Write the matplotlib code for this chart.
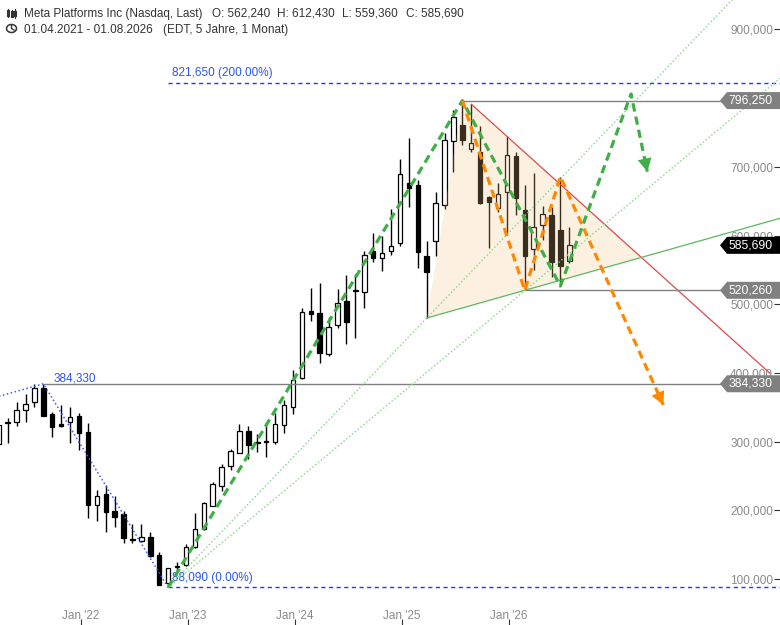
import numpy as np
import pandas as pd
import matplotlib
matplotlib.use('Agg')
import matplotlib.pyplot as plt
from matplotlib.patches import Polygon, Circle
from matplotlib.transforms import blended_transform_factory
from matplotlib.ticker import FuncFormatter

plt.rcParams['font.family'] = ['Liberation Sans', 'DejaVu Sans']

# monthly candles, 04/2021 - 08/2026
months = pd.period_range('2021-04', '2026-08', freq='M')
opens = [297, 327, 329, 346, 357.3, 377.7, 340.4, 325.8, 328.2,
         337.5, 314.7, 208, 224, 199.8, 195, 158, 155, 161, 135.3, 94, 118,
         120.7, 146.5, 172.6, 206.5, 235.6, 264.7, 284, 316, 298, 299.5, 300, 324.4,
         350, 392, 490.6, 486.8, 427.6, 469.8, 504.7, 520, 518.3, 577.5, 566.8, 577.5,
         588.6, 676, 673.5, 570, 592, 644, 737.5, 760.7, 725.8, 721, 656.5, 639.5,
         662.8, 716, 637, 580, 615, 630, 608, 562.24]
highs = [331, 334, 358, 369, 384, 384.33, 343.7, 353.5, 351,
         341.3, 327, 230, 237, 221.6, 199, 181, 181, 169, 140, 117, 125.6,
         151, 196, 212, 241, 267.6, 289, 325.8, 323, 311, 329, 342, 360.7,
         405, 494, 523, 530.5, 481, 521.7, 542.5, 543.5, 577.5, 603, 599.7, 638.5,
         711, 742.3, 680.7, 592, 662.8, 748.6, 782.5, 796.25, 791, 759, 657.5, 676,
         744.7, 721, 673.5, 691, 643, 642, 685.5, 612.43]
lows = [296, 298, 323, 329, 350, 337, 307, 322, 298.6,
        288, 189.5, 185, 168, 175.5, 153, 153, 154, 133, 91, 88.09, 111,
        119, 146, 171, 206, 229, 259, 283, 274.5, 285.6, 278, 297, 313,
        340, 391, 476, 415, 425, 466, 442, 451, 495, 562, 548, 572,
        585, 642, 553, 480, 570.6, 638, 692, 732, 722, 646, 582, 634.6,
        600.7, 629.8, 520.26, 550, 593, 540, 526.5, 559.36]
closes = [324.4, 328.5, 346, 355, 377.7, 337.9, 321.9, 322.3, 335.5,
          312.2, 208, 221, 198, 191, 159.5, 156.5, 161, 133.8, 91.6, 116, 119.5,
          146.5, 172.6, 210.4, 238, 262.8, 286.5, 316, 295.3, 299, 300.5, 325.8, 353.5,
          389.8, 489, 485.4, 428.6, 466.5, 502.3, 473.7, 521.3, 571.6, 566.8, 574, 585.2,
          689, 668.7, 575.6, 547.4, 646.8, 739, 772.8, 738.9, 734, 647.8, 648.2, 660.4,
          717, 655, 570.6, 612, 632, 562, 555.6, 585.69]

# drawing tools (month, price)
base = pd.Period('2022-01', 'M')
def mi(p):
    return (pd.Period(p, 'M') - base).n

fib_low = ('2022-11', 88.09)
fib_200 = 821.65
old_high = ('2021-09', 384.33)
blue_start = (-9.0, 366.0)
ath = ('2025-08', 796.25)
tri_low = ('2025-04', 480.0)
tri_low2 = ('2026-03', 520.26)
red_start = (44.0, 791.0)
red_end = (77.5, 399.6)
green_path = [(10, 88.09), (43, 796.25), (54, 526.5), (61.92, 805.8)]
green_tip = (63.75, 692.8)
orange_path = [(43, 796.25), (50, 520.26), (54, 685.5)]
orange_tip = (65.54, 353.5)
fan_slopes = [13.51, 10.79]
tags = [(796.25, '#808080'), (585.69, '#000000'), (520.26, '#808080'), (384.33, '#808080')]
year_ticks = ['2022-01', '2023-01', '2024-01', '2025-01', '2026-01']
y_ticks = list(range(100, 1000, 100))

def fmt(v):
    return f"{v:.3f}".replace('.', ',')

W, H = 780, 625
fig = plt.figure(figsize=(W / 100, H / 100), dpi=100)
ax = fig.add_axes([0, 0, 1, 1])
x0, x1 = -8.861, 78.63
y0, y1 = 33.45, 942.55
ax.set_xlim(x0, x1)
ax.set_ylim(y0, y1)
for s in ax.spines.values():
    s.set_visible(False)

x = np.array([(m - base).n for m in months])
o, h, l, c = map(np.array, (opens, highs, lows, closes))
up = c >= o
bot = np.minimum(o, c)
hgt = np.maximum(np.abs(c - o), 1.3)
ax.vlines(x, l, h, color='black', lw=1.0, zorder=2)
ax.bar(x[up], hgt[up], bottom=bot[up], width=0.5, facecolor='white',
       edgecolor='black', lw=0.9, zorder=3)
ax.bar(x[~up], hgt[~up], bottom=bot[~up], width=0.5, facecolor='black',
       edgecolor='black', lw=0.9, zorder=3)

# triangle
rs = (red_end[1] - red_start[1]) / (red_end[0] - red_start[0])
gx0, gy0 = mi(tri_low[0]), tri_low[1]
gs = (tri_low2[1] - gy0) / (mi(tri_low2[0]) - gx0)
ix = (gy0 - gs * gx0 - red_start[1] + rs * red_start[0]) / (rs - gs)
iy = gy0 + gs * (ix - gx0)
ax.add_patch(Polygon([(gx0, gy0), (mi(ath[0]), ath[1]), red_start, (ix, iy)],
                     closed=True, facecolor='#f6c885', alpha=0.24,
                     edgecolor='none', zorder=4))
ax.plot([red_start[0], red_end[0]], [red_start[1], red_end[1]], color='#e04a4a', lw=0.9, zorder=5)
ax.plot([gx0, x1], [gy0, gy0 + gs * (x1 - gx0)], color='#5cb85c', lw=0.9, zorder=5)

# horizontal levels
ax.hlines([ath[1]], mi(ath[0]), x1, color='#808080', lw=1, zorder=5)
ax.hlines([tri_low2[1]], mi(tri_low2[0]), x1, color='#808080', lw=1, zorder=5)
ax.hlines([old_high[1]], mi(old_high[0]), x1, color='#808080', lw=1, zorder=5)

# fib levels
fx = mi(fib_low[0])
for lev in (fib_200, fib_low[1]):
    ax.plot([fx, x1], [lev, lev], color='#1a3cff', lw=1, dashes=(3, 2.5), zorder=5)
ax.annotate(f"{fmt(fib_200)} (200.00%)", (fx, fib_200), xytext=(4, 4),
            textcoords='offset pixels', color='#2b55f0', fontsize=8.5, va='bottom')
ax.annotate(f"{fmt(fib_low[1])} (0.00%)", (fx, fib_low[1]), xytext=(4, 3),
            textcoords='offset pixels', color='#2b55f0', fontsize=8.5, va='bottom')
ax.plot([blue_start[0], mi(old_high[0]), fx], [blue_start[1], old_high[1], fib_low[1]],
        color='#3b5cff', lw=1.1, ls=':', zorder=5)
ax.annotate(fmt(old_high[1]), (mi(old_high[0]), old_high[1]), xytext=(10, -1),
            textcoords='offset pixels', color='#2b55f0', fontsize=8.5, va='bottom')

# fan lines
for s in fan_slopes:
    ax.plot([fx, x1], [fib_low[1], fib_low[1] + s * (x1 - fx)], color='#86d486',
            lw=1, ls=':', zorder=5)

# zigzags
def zig(path, tip, col):
    xs = [p[0] for p in path] + [tip[0]]
    ys = [p[1] for p in path] + [tip[1]]
    ax.plot(xs, ys, color=col, lw=2.3, dashes=(2.6, 1.6), zorder=6, solid_capstyle='butt')
    px, py = path[-1]
    back = (tip[0] - 0.15 * (tip[0] - px), tip[1] - 0.15 * (tip[1] - py))
    ax.annotate('', xy=tip, xytext=back,
                arrowprops=dict(arrowstyle='-|>,head_length=0.95,head_width=0.5',
                                color=col, lw=0, shrinkA=0, shrinkB=0, mutation_scale=10),
                zorder=7)

zig(green_path, green_tip, '#3fae46')
zig(orange_path, orange_tip, '#ff8800')

# axes ticks
ax.set_xticks([mi(t) + 0.2 for t in year_ticks])
ax.set_xticklabels([f"Jan '{t[2:4]}" for t in year_ticks])
ax.tick_params(axis='x', direction='in', length=4, color='#333333', pad=-10.5,
               labelcolor='#8a8a8a', labelsize=8.5)
ax.yaxis.tick_right()
ax.set_yticks(y_ticks)
ax.yaxis.set_major_formatter(FuncFormatter(lambda v, p: fmt(v)))
ax.tick_params(axis='y', direction='in', length=4, color='#333333', pad=-5,
               labelcolor='#8a8a8a', labelsize=8.5)
for lab in ax.get_yticklabels():
    lab.set_horizontalalignment('right')

# price tags
bt = blended_transform_factory(ax.transAxes, ax.transData)
ppu = H / (y1 - y0)
hh = 8.5 / ppu
for val, col in tags:
    ax.add_patch(Polygon([(720 / W, val), (727 / W, val + hh), (1, val + hh),
                          (1, val - hh), (727 / W, val - hh)], closed=True,
                         facecolor=col, edgecolor='none', transform=bt, zorder=10, clip_on=False))
    ax.text(773 / W, val, fmt(val), transform=bt, ha='right', va='center',
            color='white', fontsize=8.7, zorder=11)

# header
def fp(px, py):
    return (px / W, 1 - py / H)

tf = fig.transFigure
fig.text(*fp(24, 16.5), "Meta Platforms Inc (Nasdaq, Last)", fontsize=8.5, color='#333333', va='baseline')
fig.text(*fp(211.7, 16.5), f"O: {fmt(opens[-1])}", fontsize=8.5, color='#333333', va='baseline')
fig.text(*fp(277.3, 16.5), f"H: {fmt(highs[-1])}", fontsize=8.5, color='#333333', va='baseline')
fig.text(*fp(342.3, 16.5), f"L: {fmt(lows[-1])}", fontsize=8.5, color='#333333', va='baseline')
fig.text(*fp(406, 16.5), f"C: {fmt(closes[-1])}", fontsize=8.5, color='#333333', va='baseline')
fig.text(*fp(24, 33), "01.04.2021 - 01.08.2026", fontsize=8.5, color='#333333', va='baseline')
fig.text(*fp(163.3, 33), "(EDT, 5 Jahre, 1 Monat)", fontsize=8.5, color='#333333', va='baseline')

# small icons
for bx, top, b1, b2, bottom in [(7.5, 8.5, 10.5, 14.5, 16.5), (11.5, 9.5, 11.5, 15.5, 17), (15.5, 8.5, 11.5, 14.5, 17.5)]:
    fig.add_artist(plt.Line2D([bx / W, bx / W], [1 - top / H, 1 - bottom / H], color='#333333', lw=0.8, transform=tf))
    fig.add_artist(plt.Line2D([bx / W, bx / W], [1 - b1 / H, 1 - b2 / H], color='#333333', lw=2.2, transform=tf))
fig.add_artist(Circle(fp(11.5, 28.5), 5 / W, transform=tf, facecolor='none', edgecolor='#333333', lw=1.1))
fig.add_artist(plt.Line2D([11.5 / W, 11.5 / W, 14 / W], [1 - 25.5 / H, 1 - 28.5 / H, 1 - 30 / H],
                          color='#333333', lw=1, transform=tf))

fig.savefig('out.png', dpi=100)
